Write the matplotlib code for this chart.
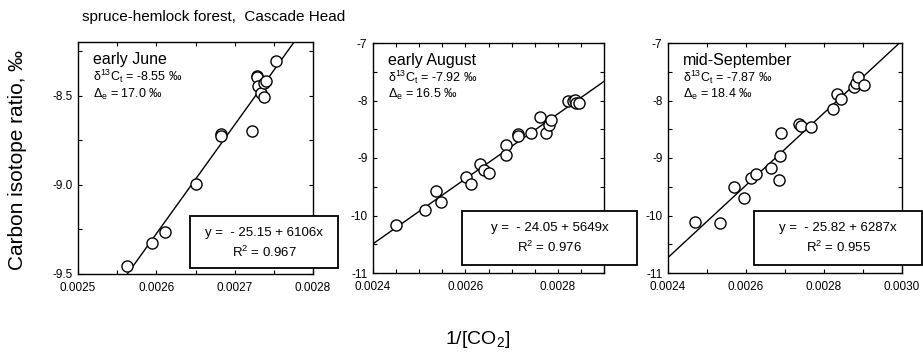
import matplotlib
matplotlib.use("Agg")
import matplotlib.pyplot as plt
import matplotlib.patches as mpatches
from matplotlib.ticker import MultipleLocator
import numpy as np

plt.rcParams["font.family"] = ["Liberation Sans", "DejaVu Sans"]
plt.rcParams["mathtext.fontset"] = "custom"
plt.rcParams["mathtext.rm"] = "Liberation Sans"
plt.rcParams["mathtext.it"] = "Liberation Sans:italic"
plt.rcParams["mathtext.bf"] = "Liberation Sans:bold"

# Data: 1/[CO2] versus delta13C
june_x = [0.002563, 0.002595, 0.002611, 0.002650, 0.002682, 0.002682, 0.002722,
          0.002728, 0.002729, 0.002730, 0.002733, 0.002737, 0.002740, 0.002737, 0.002753]
june_y = [-9.457, -9.325, -9.265, -8.998, -8.716, -8.729, -8.697,
          -8.389, -8.395, -8.449, -8.485, -8.429, -8.421, -8.508, -8.308]

aug_x = [0.002449, 0.002513, 0.002536, 0.002548, 0.002601, 0.002612, 0.002631,
         0.002641, 0.002651, 0.002687, 0.002687, 0.002713, 0.002713, 0.002741,
         0.002761, 0.002775, 0.002780, 0.002785, 0.002823, 0.002833, 0.002838,
         0.002840, 0.002845]
aug_y = [-10.173, -9.902, -9.566, -9.769, -9.324, -9.451, -9.104,
         -9.202, -9.260, -8.769, -8.942, -8.584, -8.624, -8.566,
         -8.283, -8.566, -8.434, -8.335, -8.006, -8.006, -7.994,
         -8.046, -8.040]

sep_x = [0.002469, 0.002533, 0.002568, 0.002596, 0.002613, 0.002625, 0.002665,
         0.002685, 0.002687, 0.002691, 0.002736, 0.002741, 0.002767, 0.002823,
         0.002834, 0.002843, 0.002876, 0.002882, 0.002887, 0.002902]
sep_y = [-10.116, -10.133, -9.503, -9.699, -9.341, -9.272, -9.173,
         -9.376, -8.971, -8.561, -8.416, -8.439, -8.462, -8.145,
         -7.884, -7.971, -7.757, -7.699, -7.584, -7.723]

# Regression: intercept, slope, r2
intercepts = [-25.15, -24.05, -25.82]
slopes = [6106, 5649, 6287]
r2_values = [0.967, 0.976, 0.955]

periods = ["early June", "early August", "mid-September"]
delta_t = ["-8.55", "-7.92", "-7.87"]
delta_e = ["17.0", "16.5", "18.4"]

xlims = [(0.0025, 0.0028), (0.0024, 0.0029), (0.0024, 0.0030)]
ylims = [(-9.5, -8.2), (-11, -7), (-11, -7)]
xmajor = [0.0001, 0.0002, 0.0002]
xminor = [0.00005, 0.00005, 0.0001]
ymajor = [0.5, 1, 1]
yminor = [0.25, 0.5, 0.5]
xfmt = ["%.4f", "%.4f", "%.4f"]
yfmt = ["%.1f", "%.0f", "%.0f"]

W, H = 923, 358
fig = plt.figure(figsize=(W / 100, H / 100), dpi=100)

# axes boxes in pixels: left, top, right, bottom
boxes_px = [(78, 42, 313, 274), (373, 43, 604, 273), (668, 43, 902, 273)]
# equation boxes in pixels
eq_px = [(190, 216, 338, 268), (462, 211, 637, 265), (754, 211, 922, 265)]

data = [(june_x, june_y), (aug_x, aug_y), (sep_x, sep_y)]

for i in range(3):
    l, t, r, b = boxes_px[i]
    ax = fig.add_axes([l / W, 1 - b / H, (r - l) / W, (b - t) / H])
    xs, ys = data[i]
    ax.set_xlim(*xlims[i])
    ax.set_ylim(*ylims[i])

    xx = np.array(xlims[i])
    ax.plot(xx, intercepts[i] + slopes[i] * xx, color="black", lw=1.0, zorder=2)
    ax.plot(xs, ys, "o", ms=8, mfc="white", mec="black", mew=1.0, zorder=3)

    ax.xaxis.set_major_locator(MultipleLocator(xmajor[i]))
    ax.xaxis.set_minor_locator(MultipleLocator(xminor[i]))
    ax.yaxis.set_major_locator(MultipleLocator(ymajor[i]))
    ax.yaxis.set_minor_locator(MultipleLocator(yminor[i]))
    ax.xaxis.set_major_formatter(plt.FormatStrFormatter(xfmt[i]))
    ax.yaxis.set_major_formatter(plt.FormatStrFormatter(yfmt[i]))
    ax.tick_params(which="both", direction="in", top=True, right=True,
                   length=3, width=0.8, labelsize=8.5)
    ax.tick_params(axis="x", pad=6)
    ax.tick_params(axis="y", pad=4)
    for s in ax.spines.values():
        s.set_linewidth(1.0)

    ax.text(0.065, 0.925, periods[i], transform=ax.transAxes, fontsize=11.5,
            va="center", ha="left")
    ax.text(0.065, 0.85, "δ$^{13}$C$_\\mathrm{t}$ = " + delta_t[i] + " ‰",
            transform=ax.transAxes, fontsize=9, va="center", ha="left")
    ax.text(0.065, 0.775, "Δ$_\\mathrm{e}$ = " + delta_e[i] + " ‰",
            transform=ax.transAxes, fontsize=9, va="center", ha="left")

    # equation box, drawn in figure pixels so it can spill past the axes
    el, et, er, eb = eq_px[i]
    rect = mpatches.Rectangle((el / W, 1 - eb / H), (er - el) / W, (eb - et) / H,
                              transform=fig.transFigure, facecolor="white",
                              edgecolor="black", lw=1.3, zorder=5)
    fig.patches.append(rect)
    cx = (el + er) / 2 / W
    fig.text(cx, 1 - (et + 17) / H,
             "y =  - %.2f + %dx" % (-intercepts[i], slopes[i]),
             ha="center", va="center", fontsize=9.5, zorder=6)
    fig.text(cx, 1 - (et + 36) / H, "R$^\\mathrm{2}$ = %.3f" % r2_values[i],
             ha="center", va="center", fontsize=9.5, zorder=6)

fig.text(82 / W, 1 - 17 / H, "spruce-hemlock forest,  Cascade Head",
         fontsize=11, ha="left", va="center")
fig.text(18 / W, 1 - 160 / H, "Carbon isotope ratio, ‰", rotation=90,
         fontsize=15, ha="center", va="center")
fig.text(478 / W, 1 - 340 / H, "1/[CO$_2$]", fontsize=14, ha="center", va="center")

fig.savefig("out.png", dpi=100)
